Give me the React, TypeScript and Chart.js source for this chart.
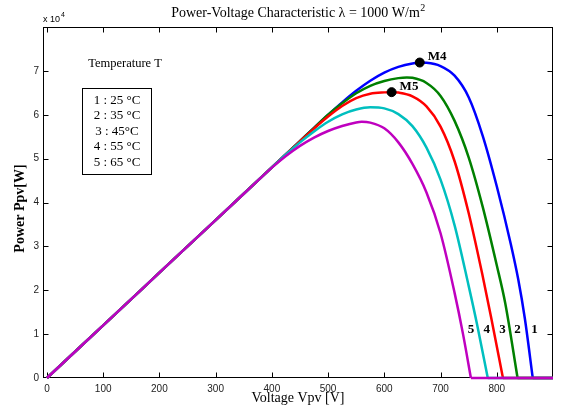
import React, { useEffect, useRef } from "react";
import { Chart, registerables } from "chart.js";

Chart.register(...registerables);

// ---- text ----
const chartTitle = "Power-Voltage Characteristic λ = 1000 W/m";
const chartTitleSup = "2";
const xAxisTitle = "Voltage Vpv [V]";
const yAxisTitle = "Power Ppv[W]";
const yExponentBase = "x 10";
const yExponentSup = "4";
const legendTitle = "Temperature T";
const temperatureLabels = ["1 : 25 °C", "2 : 35 °C", "3 : 45°C", "4 : 55 °C", "5 : 65 °C"];

// ---- axes ----
const xMin = -7;
const xMax = 900;
const yMin = 0;
const yMax = 80000;
const xTicks = [0, 100, 200, 300, 400, 500, 600, 700, 800, 900];
const xTickLabels = ["0", "100", "200", "300", "400", "500", "600", "700", "800", ""];
const yTicks = [0, 10000, 20000, 30000, 40000, 50000, 60000, 70000, 80000];
const yTickLabels = ["0", "1", "2", "3", "4", "5", "6", "7", ""];

// ---- series (voltage V, power W) ----
const voltage1 = [0, 100, 200, 300, 400, 450, 475, 500, 525, 550, 575, 600, 625, 650, 663, 675, 700, 725, 750, 775, 800, 825, 838, 850, 864];
const power1 = [0, 12000, 24000, 36000, 48000, 54000, 57000, 59950, 62800, 65450, 67750, 69600, 70900, 71700, 71900, 71850, 71100, 68900, 64000, 55200, 43700, 30500, 22600, 13500, 0];

const voltage2 = [0, 100, 200, 300, 400, 450, 475, 500, 525, 550, 575, 600, 625, 640, 650, 675, 700, 725, 750, 775, 800, 815, 837];
const power2 = [0, 12000, 24000, 36000, 48000, 54000, 57000, 60000, 62600, 64900, 66600, 67700, 68350, 68500, 68420, 67250, 64300, 58600, 50300, 39000, 25700, 17100, 0];

const voltage3 = [0, 100, 200, 300, 400, 450, 475, 500, 525, 550, 575, 600, 613, 625, 650, 675, 700, 725, 750, 775, 790, 811];
const power3 = [0, 12000, 24000, 36000, 48000, 53950, 56850, 59600, 62000, 63800, 64800, 65100, 65150, 65050, 64200, 61900, 57300, 49400, 37600, 23200, 13800, 0];

const voltage4 = [0, 100, 200, 300, 400, 425, 450, 475, 500, 525, 550, 575, 600, 625, 650, 675, 700, 725, 750, 765, 784];
const power4 = [0, 12000, 24000, 36000, 48000, 50950, 53700, 56200, 58400, 60100, 61200, 61700, 61450, 60150, 57400, 52500, 45200, 34800, 21000, 12200, 0];

const voltage5 = [0, 100, 200, 300, 350, 375, 400, 425, 450, 475, 500, 525, 550, 560, 575, 600, 625, 650, 675, 700, 725, 740, 754];
const power5 = [0, 12000, 24000, 36000, 42000, 45000, 47950, 50600, 52900, 54800, 56300, 57450, 58250, 58380, 58200, 56900, 53700, 48800, 42300, 33000, 19400, 10000, 0];

const seriesVoltages = [voltage1, voltage2, voltage3, voltage4, voltage5];
const seriesPowers = [power1, power2, power3, power4, power5];
const seriesColors = ["#0000FF", "#008000", "#FF0000", "#00BFBF", "#BF00BF"];

// ---- marked maximum power points ----
const markerLabels = ["M4", "M5"];
const markerVoltage = [663, 613];
const markerPower = [71900, 65150];

// ---- curve number labels ----
const curveLabels = ["1", "2", "3", "4", "5"];
const curveLabelVoltage = [867, 837, 810, 782, 754];
const curveLabelPower = [11000, 11000, 11000, 11000, 11000];

const SERIF = "'Liberation Serif', 'Times New Roman', serif";
const SANS = "'Liberation Sans', Arial, sans-serif";

const annotationPlugin = {
  id: "pvAnnotations",
  beforeDatasetsDraw(chart: any) {
    const { ctx, chartArea } = chart;
    const xs = chart.scales.x;
    const ys = chart.scales.y;
    const l = Math.round(chartArea.left) + 0.5;
    const r = Math.round(chartArea.right) - 0.5;
    const t = Math.round(chartArea.top) + 0.5;
    const b = Math.round(chartArea.bottom) - 0.5;
    ctx.save();
    ctx.strokeStyle = "#000";
    ctx.lineWidth = 1;
    ctx.strokeRect(l, t, r - l, b - t);
    ctx.beginPath();
    const tl = 5;
    xTicks.forEach((v) => {
      const px = Math.round(xs.getPixelForValue(v)) + 0.5;
      if (px > r - 1) return;
      ctx.moveTo(px, b);
      ctx.lineTo(px, b - tl);
      ctx.moveTo(px, t);
      ctx.lineTo(px, t + tl);
    });
    yTicks.forEach((v) => {
      const py = Math.round(ys.getPixelForValue(v)) + 0.5;
      if (py < t + 1 || py > b - 1) return;
      ctx.moveTo(l, py);
      ctx.lineTo(l + tl, py);
      ctx.moveTo(r, py);
      ctx.lineTo(r - tl, py);
    });
    ctx.stroke();
    ctx.restore();
  },
  afterDraw(chart: any) {
    const { ctx, chartArea } = chart;
    const xs = chart.scales.x;
    const ys = chart.scales.y;
    const cx = (chartArea.left + chartArea.right) / 2;
    const cy = (chartArea.top + chartArea.bottom) / 2;
    ctx.save();
    ctx.fillStyle = "#000";

    // title with superscript
    ctx.font = `14px ${SERIF}`;
    const mainW = ctx.measureText(chartTitle).width;
    ctx.font = `10px ${SERIF}`;
    const supW = ctx.measureText(chartTitleSup).width;
    const startX = cx - (mainW + supW) / 2;
    ctx.textAlign = "left";
    ctx.textBaseline = "alphabetic";
    ctx.font = `14px ${SERIF}`;
    ctx.fillText(chartTitle, startX, 17);
    ctx.font = `10px ${SERIF}`;
    ctx.fillText(chartTitleSup, startX + mainW + 0.5, 11);

    // exponent label
    ctx.font = `9px ${SANS}`;
    ctx.fillText(yExponentBase, chartArea.left, 22);
    const ebw = ctx.measureText(yExponentBase).width;
    ctx.font = `7px ${SANS}`;
    ctx.fillText(yExponentSup, chartArea.left + ebw + 1, 17);

    // axis titles
    ctx.textAlign = "center";
    ctx.textBaseline = "middle";
    ctx.font = `14px ${SERIF}`;
    ctx.fillText(xAxisTitle, cx, 398);
    ctx.save();
    ctx.translate(20, cy + 6);
    ctx.rotate(-Math.PI / 2);
    ctx.font = `bold 14px ${SERIF}`;
    ctx.fillText(yAxisTitle, 0, 0);
    ctx.restore();

    // legend box
    const bl = chartArea.left;
    const bt = chartArea.top;
    ctx.font = `12.5px ${SERIF}`;
    ctx.fillText(legendTitle, bl + 82, bt + 37);
    ctx.strokeStyle = "#000";
    ctx.lineWidth = 1;
    ctx.strokeRect(Math.round(bl + 39) + 0.5, Math.round(bt + 61) + 0.5, 69, 86);
    ctx.font = `13px ${SERIF}`;
    temperatureLabels.forEach((s, i) => {
      ctx.fillText(s, bl + 74, bt + 73.5 + i * 15.5);
    });

    // marker labels
    ctx.font = `bold 13px ${SERIF}`;
    ctx.textAlign = "left";
    markerLabels.forEach((s, i) => {
      const px = xs.getPixelForValue(markerVoltage[i]);
      const py = ys.getPixelForValue(markerPower[i]);
      ctx.fillText(s, px + 8, py - 6);
    });

    // curve numbers
    ctx.textAlign = "center";
    curveLabels.forEach((s, i) => {
      const px = xs.getPixelForValue(curveLabelVoltage[i]);
      const py = ys.getPixelForValue(curveLabelPower[i]);
      ctx.fillText(s, px, py);
    });
    ctx.restore();
  },
};

export default function App() {
  const canvasRef = useRef<HTMLCanvasElement | null>(null);

  useEffect(() => {
    if (!canvasRef.current) return;
    const datasets: any[] = [];
    seriesVoltages.forEach((vs, i) => {
      datasets.push({
        label: temperatureLabels[i],
        data: vs.map((v, k) => ({ x: v, y: seriesPowers[i][k] })),
        borderColor: seriesColors[i],
        backgroundColor: seriesColors[i],
        borderWidth: 2.5,
        pointRadius: 0,
        cubicInterpolationMode: "monotone",
        fill: false,
        clip: 4,
        order: 10 - i,
      });
      const last = vs.length - 1;
      datasets.push({
        label: temperatureLabels[i] + " tail",
        data: [
          { x: vs[last], y: seriesPowers[i][last] },
          { x: xMax, y: seriesPowers[i][last] },
        ],
        borderColor: seriesColors[i],
        borderWidth: 2.5,
        pointRadius: 0,
        tension: 0,
        fill: false,
        clip: 2,
        order: 10 - i,
      });
    });
    datasets.push({
      label: "markers",
      data: markerVoltage.map((v, k) => ({ x: v, y: markerPower[k] })),
      showLine: false,
      pointRadius: 4.5,
      pointBackgroundColor: "#000",
      pointBorderColor: "#000",
      borderColor: "#000",
      pointBorderWidth: 1,
      clip: 8,
      order: 0,
    });

    const chart = new Chart(canvasRef.current, {
      type: "line",
      data: { datasets },
      options: {
        responsive: false,
        animation: false,
        layout: { padding: { left: 0, right: 17, top: 27, bottom: 0 } },
        plugins: {
          legend: { display: false },
          title: { display: false },
          tooltip: { enabled: false },
        },
        scales: {
          x: {
            type: "linear",
            min: xMin,
            max: xMax,
            grid: { display: false, drawTicks: false },
            border: { display: false },
            afterBuildTicks: (s: any) => {
              s.ticks = xTicks.map((v) => ({ value: v }));
            },
            afterFit: (s: any) => {
              s.height = 34;
            },
            ticks: {
              autoSkip: false,
              maxRotation: 0,
              padding: 5,
              color: "#222",
              font: { family: SANS, size: 10 },
              callback: (v: any) => {
                const i = xTicks.indexOf(Number(v));
                return i >= 0 ? xTickLabels[i] : "";
              },
            },
          },
          y: {
            type: "linear",
            min: yMin,
            max: yMax,
            grid: { display: false, drawTicks: false },
            border: { display: false },
            afterBuildTicks: (s: any) => {
              s.ticks = yTicks.map((v) => ({ value: v }));
            },
            afterFit: (s: any) => {
              s.width = 43;
            },
            ticks: {
              autoSkip: false,
              padding: 4,
              color: "#222",
              font: { family: SANS, size: 10 },
              callback: (v: any) => {
                const i = yTicks.indexOf(Number(v));
                return i >= 0 ? yTickLabels[i] : "";
              },
            },
          },
        },
      } as any,
      plugins: [annotationPlugin],
    });
    return () => chart.destroy();
  }, []);

  return (
    <div style={{ position: "absolute", left: 0, top: 0, width: 570, height: 412, background: "#fff" }}>
      <canvas ref={canvasRef} width={570} height={412} style={{ display: "block" }} />
    </div>
  );
}
